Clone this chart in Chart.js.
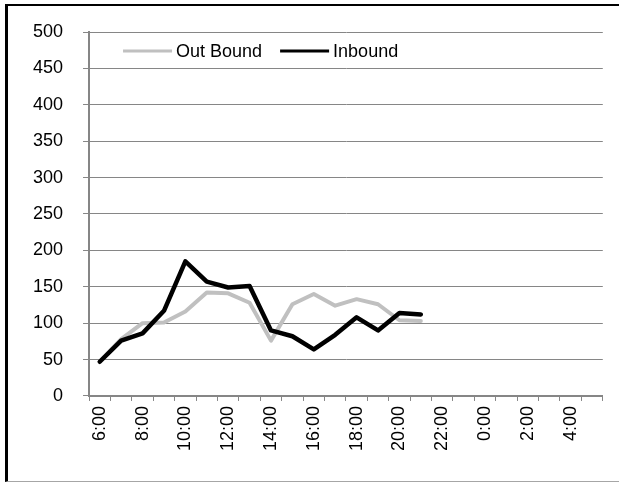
<!DOCTYPE html>
<html><head><meta charset="utf-8">
<script src="https://cdn.jsdelivr.net/npm/chart.js@4/dist/chart.umd.min.js"></script>
<style>
html,body{margin:0;padding:0;background:#fff;}
#wrap{position:absolute;left:0;top:0;width:619px;height:483px;}
#frame{position:absolute;left:5px;top:4px;width:614px;height:478px;border-left:3px solid #000;border-top:2px solid #000;border-bottom:1px solid #a6a6a6;box-sizing:border-box;pointer-events:none;}
</style></head><body>
<div id="wrap"><canvas id="c" width="619" height="483"></canvas><div id="frame"></div></div>
<script>
// Categories (hourly, 6:00 through 5:00)
const hours = ['6:00','7:00','8:00','9:00','10:00','11:00','12:00','13:00','14:00','15:00','16:00','17:00',
               '18:00','19:00','20:00','21:00','22:00','23:00','0:00','1:00','2:00','3:00','4:00','5:00'];
// Series values
const outBound = [47, 78, 100, 101, 116, 142, 141, 128, 76, 126, 140, 124, 133, 126, 104, 103,
                  null, null, null, null, null, null, null, null];
const inbound  = [47, 76, 86, 117, 185, 157, 149, 151, 90, 82, 64, 84, 108, 90, 114, 112,
                  null, null, null, null, null, null, null, null];
const seriesNames = ['Out Bound', 'Inbound'];
// Value-axis ticks
const yMin = 0, yMax = 500, yStep = 50;

const FONT = "'Liberation Sans', Arial, sans-serif";
Chart.defaults.font.family = FONT;
Chart.defaults.font.size = 18;
Chart.defaults.color = '#000';

const legendPlugin = {
  id: 'insideLegend',
  afterDatasetsDraw(chart) {
    const {ctx, chartArea} = chart;
    ctx.save();
    ctx.font = '18px ' + FONT;
    ctx.textBaseline = 'middle';
    ctx.textAlign = 'left';
    let x = chartArea.left + 34;
    const y = chartArea.top + 19;
    chart.data.datasets.forEach(ds => {
      ctx.strokeStyle = ds.borderColor;
      ctx.lineWidth = 3;
      ctx.beginPath(); ctx.moveTo(x, y); ctx.lineTo(x + 49, y); ctx.stroke();
      x += 49 + 4;
      ctx.fillStyle = '#000';
      ctx.fillText(ds.label, x, y + 1);
      x += ctx.measureText(ds.label).width + 18;
    });
    ctx.restore();
  }
};

new Chart(document.getElementById('c'), {
  type: 'line',
  data: {
    labels: hours,
    datasets: [
      { label: seriesNames[0], data: outBound, borderColor: '#c0c0c0', backgroundColor: '#c0c0c0',
        borderWidth: 4, pointRadius: 0, tension: 0, order: 1, borderJoinStyle: 'round', borderCapStyle: 'round' },
      { label: seriesNames[1], data: inbound, borderColor: '#000000', backgroundColor: '#000000',
        borderWidth: 4.5, pointRadius: 0, tension: 0, order: 0, borderJoinStyle: 'round', borderCapStyle: 'round' }
    ]
  },
  options: {
    responsive: false,
    animation: false,
    devicePixelRatio: 1,
    layout: { padding: { left: 13, right: 15, top: 32, bottom: 27 } },
    plugins: { legend: { display: false }, tooltip: { enabled: false } },
    scales: {
      x: {
        type: 'category',
        offset: true,
        grid: { offset: true, drawOnChartArea: false, drawTicks: true, tickLength: 5, color: '#868686', lineWidth: 1 },
        border: { color: '#868686', width: 2 },
        ticks: {
          autoSkip: false, maxRotation: 90, minRotation: 90, padding: 5,
          callback: (v, i) => (i % 2 === 0 ? hours[i] : '')
        }
      },
      y: {
        min: yMin, max: yMax,
        grid: { color: '#868686', lineWidth: 1, tickLength: 6 },
        border: { color: '#868686', width: 2 },
        ticks: { stepSize: yStep, padding: 20 }
      }
    }
  },
  plugins: [legendPlugin]
});
</script>
</body></html>
